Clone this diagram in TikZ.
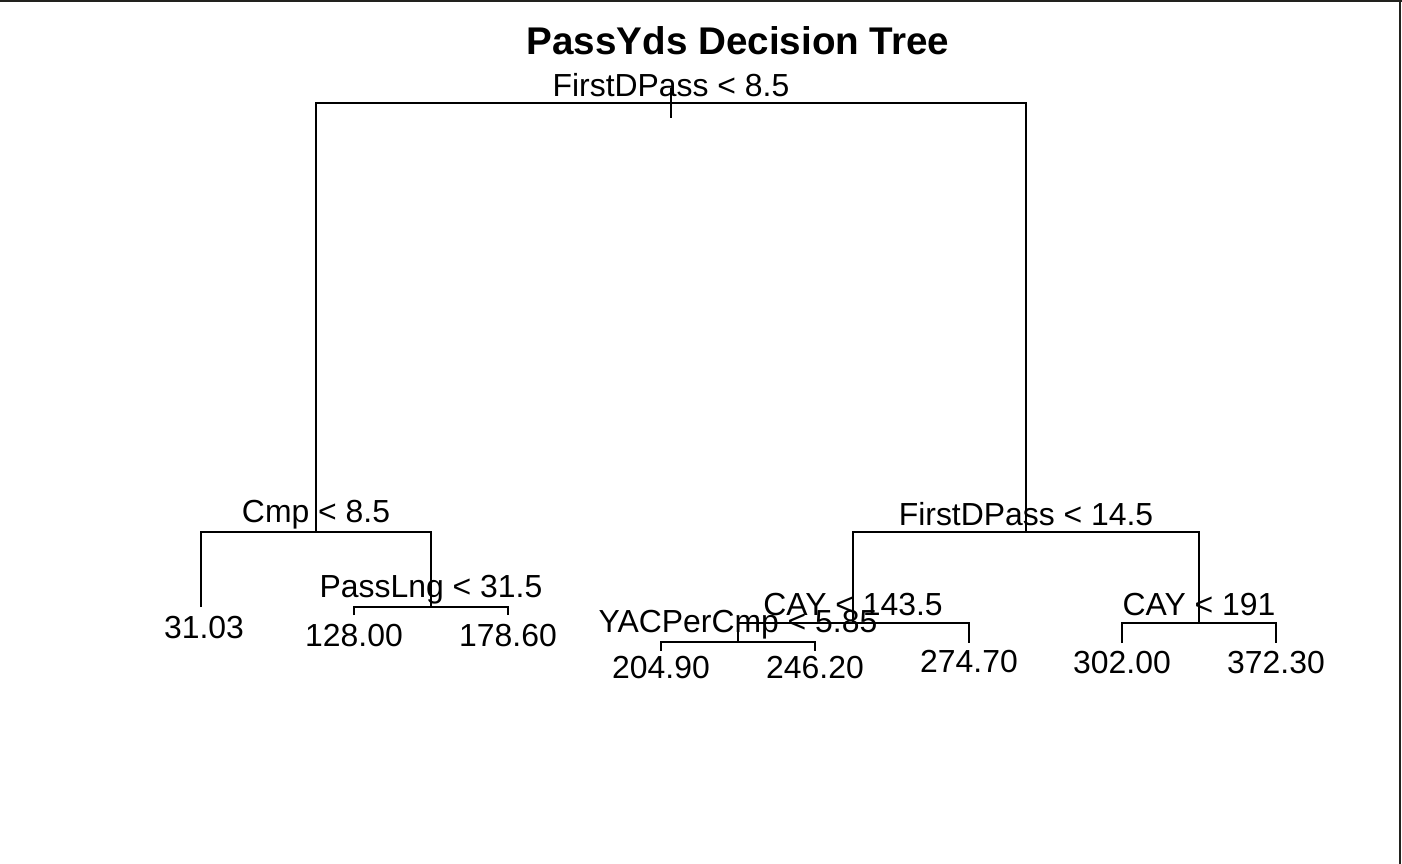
\documentclass[tikz,border=0pt]{standalone}
\usepackage{fontspec}
\setmainfont{Liberation Sans}
\usetikzlibrary{positioning}
\definecolor{cFrame}{RGB}{34,34,30}
\tikzset{
	branch/.style={line width=1.6pt, black},
	splitlbl/.style={anchor=base, inner sep=0pt, font=\fontsize{31.9}{36}\selectfont},
	leaflbl/.style={anchor=base, inner sep=0pt, font=\fontsize{31.9}{36}\selectfont},
	titlelbl/.style={anchor=base, inner sep=0pt, font=\bfseries\fontsize{38.6}{44}\selectfont},
}
\begin{document}
\begin{tikzpicture}[x=1pt, y=-1pt]
	\useasboundingbox (0,0) rectangle (1402,864);
	% frame edges of the screenshot
	\draw[cFrame, line width=2.5pt] (0,1) -- (1402,1);
	\draw[cFrame, line width=2pt] (1400,0) -- (1400,864);
	% title
	\node[titlelbl] (title) at (738,55) {PassYds Decision Tree};
	% split points
	\coordinate (root) at (671,103);
	\coordinate (rootTop) at (671,88);
	\coordinate (rootBot) at (671,118);
	\coordinate (cmp) at (316,532);
	\coordinate (passlng) at (431,607);
	\coordinate (fdp) at (1026,532);
	\coordinate (cayA) at (853,623);
	\coordinate (yac) at (738,642);
	\coordinate (cayB) at (1199,623);
	% leaf ends
	\coordinate (e3103) at (201,607);
	\coordinate (e12800) at (354,615);
	\coordinate (e17860) at (508,615);
	\coordinate (e20490) at (661,651);
	\coordinate (e24620) at (815,651);
	\coordinate (e27470) at (969,643);
	\coordinate (e30200) at (1122,643);
	\coordinate (e37230) at (1276,643);
	% branches
	\draw[branch] (rootTop) -- (rootBot);
	\draw[branch] (cmp) |- (root) -| (fdp);
	\draw[branch] (e3103) |- (cmp) -| (passlng);
	\draw[branch] (e12800) |- (passlng) -| (e17860);
	\draw[branch] (cayA) |- (fdp) -| (cayB);
	\draw[branch] (yac) |- (cayA) -| (e27470);
	\draw[branch] (e20490) |- (yac) -| (e24620);
	\draw[branch] (e30200) |- (cayB) -| (e37230);
	% split labels
	\node[splitlbl] (lroot) at (671,97) {FirstDPass < 8.5};
	\node[splitlbl] (lcmp) at (316,522) {Cmp < 8.5};
	\node[splitlbl] (lpasslng) at (431,597) {PassLng < 31.5};
	\node[splitlbl] (lfdp) at (1026,525) {FirstDPass < 14.5};
	\node[splitlbl] (lcayA) at (853,615) {CAY < 143.5};
	\node[splitlbl] (lyac) at (738,632) {YACPerCmp < 5.85};
	\node[splitlbl] (lcayB) at (1199,615) {CAY < 191};
	% leaf labels
	\node[leaflbl] (v3103) at (204,638) {31.03};
	\node[leaflbl] (v12800) at (354,646) {128.00};
	\node[leaflbl] (v17860) at (508,646) {178.60};
	\node[leaflbl] (v20490) at (661,678) {204.90};
	\node[leaflbl] (v24620) at (815,678) {246.20};
	\node[leaflbl] (v27470) at (969,672) {274.70};
	\node[leaflbl] (v30200) at (1122,673) {302.00};
	\node[leaflbl] (v37230) at (1276,673) {372.30};
\end{tikzpicture}
\end{document}
